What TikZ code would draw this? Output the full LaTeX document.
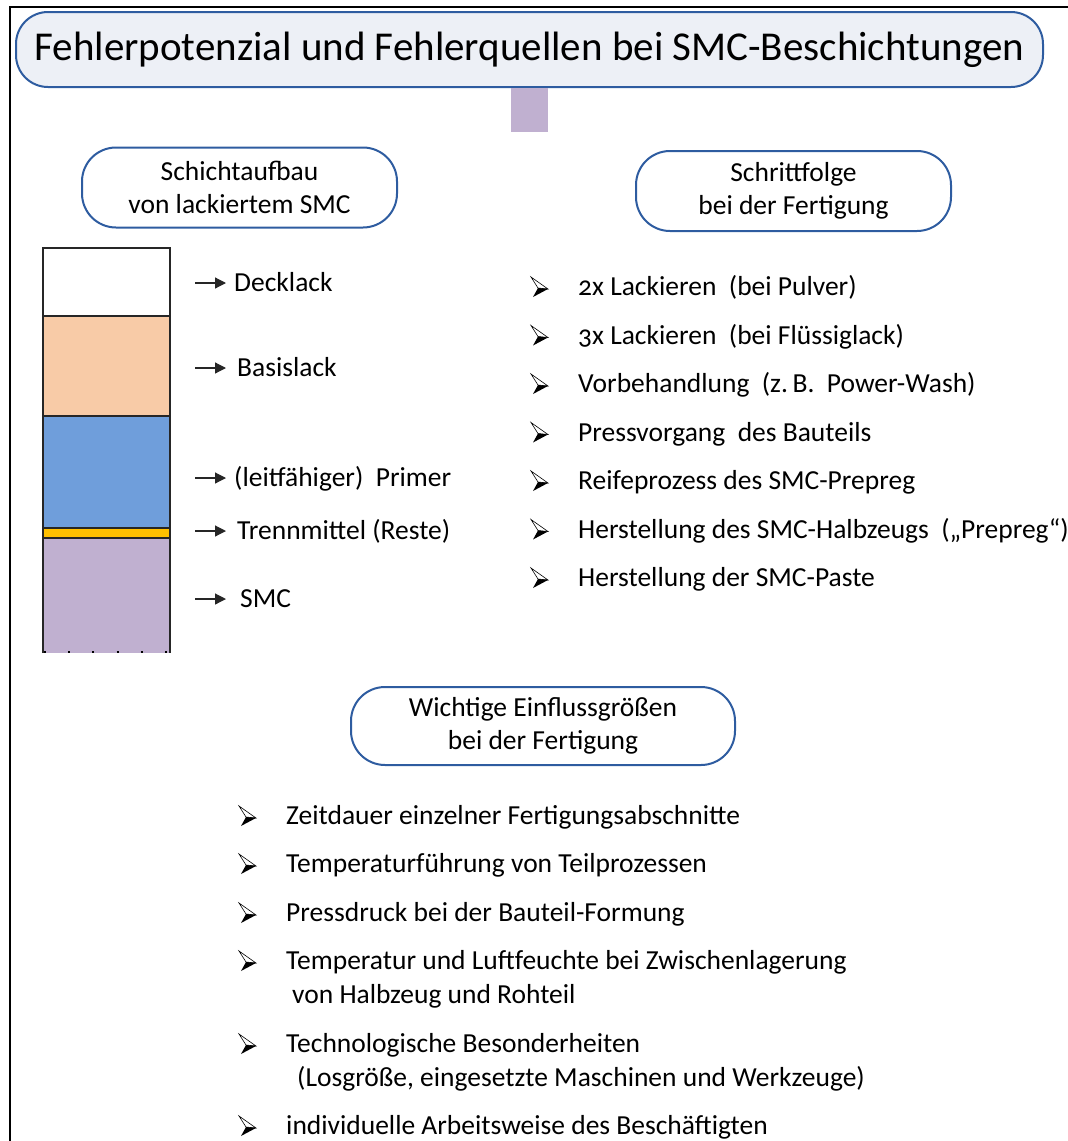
\documentclass[tikz,border=0pt]{standalone}
\usepackage{fontspec}
\setmainfont{Carlito}[Numbers=OldStyle]
\usetikzlibrary{arrows.meta, positioning, calc}

\definecolor{rahmenblau}{RGB}{46,92,160}
\definecolor{titelgrau}{RGB}{237,240,246}
\definecolor{lila}{RGB}{192,176,208}
\definecolor{pfirsich}{RGB}{248,203,167}
\definecolor{primerblau}{RGB}{111,158,219}
\definecolor{trenngelb}{RGB}{255,192,0}

\begin{document}
\begin{tikzpicture}[x=1pt, y=-1pt,
    titel/.style={rectangle, draw=rahmenblau, fill=titelgrau, line width=2pt, rounded corners=32pt, minimum width=1027pt, minimum height=75pt, font=\fontsize{41}{48}\selectfont},
    kopf/.style={rectangle, draw=rahmenblau, fill=white, line width=2pt, rounded corners=34pt, align=center, minimum height=80pt, font=\fontsize{27.5}{33}\selectfont},
    eintrag/.style={anchor=west, inner sep=0pt, text height=17pt, text depth=0pt, font=\fontsize{27.5}{34}\selectfont},
    marke/.pic={
      \filldraw[fill=white, draw=black, line width=0.6pt] (-9,-10) -- (8,2) -- (-2,1) -- cycle;
      \fill[black] (-2,1) -- (8,2) -- (-7,10) -- cycle;
    },
    pfeil/.style={-{Triangle[length=11pt, width=11pt]}, line width=1.2pt, black!85},
    schicht/.style={draw=black!85, line width=1.5pt},
    node distance=48.5pt
  ]
  \useasboundingbox (0,0) rectangle (1068,1141);

  % Rahmen
  \draw[line width=2pt] (10,1141) -- (10,7) -- (1068,7);

  % Titel
  \node[titel] (titel) at (529.5,49.5) {Fehlerpotenzial und Fehlerquellen bei SMC-Beschichtungen};
  \node[fill=lila, minimum width=37pt, minimum height=44pt, inner sep=0pt, below=0pt of titel] (steg) {};

  % Kopfboxen
  \node[kopf, minimum width=315pt] (aufbau) at (239.5,187.5) {Schichtaufbau\\von lackiertem SMC};
  \node[kopf, minimum width=315pt] (folge) at (793.5,191) {Schrittfolge\\bei der Fertigung};
  \node[kopf, minimum width=384pt, minimum height=78pt] (einfluss) at (543,726) {Wichtige Einflussgrößen\\bei der Fertigung};

  % Schichtaufbau
  \fill[white] (43,248) rectangle (170,316);
  \fill[pfirsich] (43,316) rectangle (170,416);
  \fill[primerblau] (43,416) rectangle (170,528);
  \fill[trenngelb] (43,528) rectangle (170,538);
  \fill[lila] (43,538) rectangle (170,653);
  \draw[schicht] (43,653) -- (43,248) -- (170,248) -- (170,653);
  \draw[schicht] (43,316) -- (170,316);
  \draw[schicht] (43,416) -- (170,416);
  \draw[schicht] (43,528) -- (170,528);
  \draw[schicht] (43,538) -- (170,538);
  \draw[line width=2pt, dash pattern=on 2pt off 22.2pt] (44,652) -- (170,652);

  \node[eintrag] (deck) at (234,283) {Decklack};
  \node[eintrag] (basis) at (237,368) {Basislack};
  \node[eintrag] (primer) at (234,478) {(leitfähiger)\ \ Primer};
  \node[eintrag] (trenn) at (237,531) {Trennmittel (Reste)};
  \node[eintrag] (smc) at (240,599) {SMC};

  \coordinate (p1) at (195,283);
  \coordinate (p2) at (195,368);
  \coordinate (p3) at (195,478);
  \coordinate (p4) at (195,531);
  \coordinate (p5) at (195,599);
  \draw[pfeil] (p1) -- ([xshift=-8pt]p1 -| deck.west);
  \draw[pfeil] (p2) -- ([xshift=-11pt]p2 -| basis.west);
  \draw[pfeil] (p3) -- ([xshift=-8pt]p3 -| primer.west);
  \draw[pfeil] (p4) -- ([xshift=-11pt]p4 -| trenn.west);
  \draw[pfeil] (p5) -- ([xshift=-14pt]p5 -| smc.west);

  % Schrittfolge
  \node[eintrag] (r1) at (578,287) {2x Lackieren\ \ (bei Pulver)};
  \node[eintrag, below=of r1.west, anchor=west] (r2) {3x Lackieren\ \ (bei Flüssiglack)};
  \node[eintrag, below=of r2.west, anchor=west] (r3) {Vorbehandlung\ \ (z.\,B.\ \ Power-Wash)};
  \node[eintrag, below=of r3.west, anchor=west] (r4) {Pressvorgang\ \ des Bauteils};
  \node[eintrag, below=of r4.west, anchor=west] (r5) {Reifeprozess des SMC-Prepreg};
  \node[eintrag, below=of r5.west, anchor=west] (r6) {Herstellung des SMC-Halbzeugs\ \ („Prepreg“)};
  \node[eintrag, below=of r6.west, anchor=west] (r7) {Herstellung der SMC-Paste};

  \pic at ([xshift=-38pt]r1.west) {marke};
  \pic at ([xshift=-38pt]r2.west) {marke};
  \pic at ([xshift=-38pt]r3.west) {marke};
  \pic at ([xshift=-38pt]r4.west) {marke};
  \pic at ([xshift=-38pt]r5.west) {marke};
  \pic at ([xshift=-38pt]r6.west) {marke};
  \pic at ([xshift=-38pt]r7.west) {marke};

  % Einflussgroessen
  \node[eintrag] (e1) at (286,816) {Zeitdauer einzelner Fertigungsabschnitte};
  \node[eintrag] (e2) at (286,864) {Temperaturführung von Teilprozessen};
  \node[eintrag] (e3) at (286,913) {Pressdruck bei der Bauteil-Formung};
  \node[eintrag] (e4) at (286,961) {Temperatur und Luftfeuchte bei Zwischenlagerung};
  \node[eintrag] (e4b) at (292,995) {von Halbzeug und Rohteil};
  \node[eintrag] (e5) at (286,1044) {Technologische Besonderheiten};
  \node[eintrag] (e5b) at (297,1078) {(Losgröße, eingesetzte Maschinen und Werkzeuge)};
  \node[eintrag] (e6) at (286,1126) {individuelle Arbeitsweise des Beschäftigten};

  \pic at ([xshift=-38pt]e1.west) {marke};
  \pic at ([xshift=-38pt]e2.west) {marke};
  \pic at ([xshift=-38pt]e3.west) {marke};
  \pic at ([xshift=-38pt]e4.west) {marke};
  \pic at ([xshift=-38pt]e5.west) {marke};
  \pic at ([xshift=-38pt]e6.west) {marke};
\end{tikzpicture}
\end{document}
